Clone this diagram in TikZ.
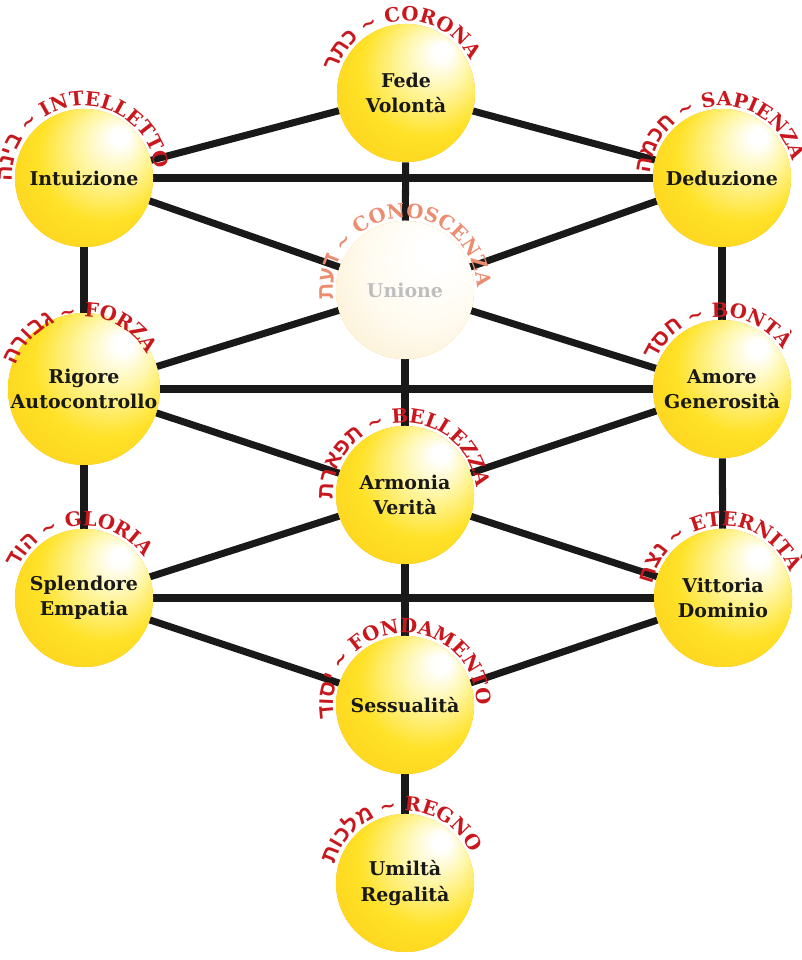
\documentclass[tikz,border=0pt]{standalone}
\usepackage{fontspec}
\setmainfont{DejaVu Serif}
\newfontfamily\hebfont{Liberation Sans}
\usetikzlibrary{decorations.text,backgrounds}

\definecolor{rosso}{RGB}{200,24,30}
\definecolor{salmone}{RGB}{236,140,112}
\definecolor{grigio}{RGB}{190,190,190}
\definecolor{giallo}{RGB}{255,226,40}
\definecolor{giallochiaro}{RGB}{255,246,165}
\definecolor{giallocarico}{RGB}{252,205,25}
\definecolor{arancio}{RGB}{242,172,16}
\definecolor{crema}{RGB}{250,236,200}
\definecolor{cremachiaro}{RGB}{255,251,240}

\pgfdeclareradialshading{sfera}{\pgfpoint{14bp}{16bp}}{color(0bp)=(white); color(3bp)=(white); color(12bp)=(giallochiaro); color(24bp)=(giallo); color(40bp)=(giallocarico); color(50bp)=(arancio)}
\pgfdeclareradialshading{sferapallida}{\pgfpoint{14bp}{16bp}}{color(0bp)=(white); color(6bp)=(white); color(22bp)=(cremachiaro); color(42bp)=(crema); color(50bp)=(crema!85!orange)}

\newcommand\ebr{\hebfont\bfseries\fontsize{16}{16}\selectfont\color{rosso}}
\newcommand\lat{\bfseries\fontsize{14}{14}\selectfont\color{rosso}}
\newcommand\ebrp{\hebfont\bfseries\fontsize{16}{16}\selectfont\color{salmone}}
\newcommand\latp{\bfseries\fontsize{14}{14}\selectfont\color{salmone}}

\tikzset{
  sefira/.style={circle, minimum size=3.45cm, inner sep=0pt, preaction={fill=arancio}, shading=sfera, align=center,
    font=\bfseries\fontsize{13.5}{18}\selectfont, text=black!90},
  unione/.style={sefira, preaction={fill=crema}, shading=sferapallida, text=grigio},
  sentiero/.style={line width=5pt, black!90},
  nome/.style={decorate, decoration={text along path, text align=center, text={#1}}},
}

\begin{document}
\begin{tikzpicture}[x=0.025cm, y=0.025cm]
    \useasboundingbox (0,0) rectangle (802,960);
    % Sefirot:
    \node[sefira] (keter) at (406,867) {Fede\\Volontà};
    \node[sefira] (binah) at (84,782) {Intuizione};
    \node[sefira] (chokhmah) at (722,782) {Deduzione};
    \node[unione] (daat) at (405,670) {Unione};
    \node[sefira] (gevurah) at (84,571) {Rigore\\Autocontrollo};
    \node[sefira] (chesed) at (722,571) {Amore\\Generosità};
    \node[sefira] (tiferet) at (405,465) {Armonia\\Verità};
    \node[sefira] (hod) at (84,362) {Splendore\\Empatia};
    \node[sefira] (netzach) at (723,362) {Vittoria\\Dominio};
    \node[sefira] (yesod) at (405,255) {Sessualità};
    \node[sefira] (malkuth) at (405,77) {Umiltà\\Regalità};
    % Names on arcs:
    \path[nome={|\ebr|רתכ |\lat|{\textasciitilde} CORONA}] (keter) ++(205:1.8cm) arc[start angle=205, end angle=-15, radius=1.8cm];
    \path[nome={|\ebr|הניב |\lat|{\textasciitilde} INTELLETTO}] (binah) ++(205:1.8cm) arc[start angle=205, end angle=-15, radius=1.8cm];
    \path[nome={|\ebr|המכח |\lat|{\textasciitilde} SAPIENZA}] (chokhmah) ++(205:1.8cm) arc[start angle=205, end angle=-15, radius=1.8cm];
    \path[nome={|\ebrp|תעד |\latp|{\textasciitilde} CONOSCENZA}] (daat) ++(205:1.8cm) arc[start angle=205, end angle=-15, radius=1.8cm];
    \path[nome={|\ebr|הרובג |\lat|{\textasciitilde} FORZA}] (gevurah) ++(205:1.8cm) arc[start angle=205, end angle=-15, radius=1.8cm];
    \path[nome={|\ebr|דסח |\lat|{\textasciitilde} BONTÀ}] (chesed) ++(205:1.8cm) arc[start angle=205, end angle=-15, radius=1.8cm];
    \path[nome={|\ebr|תראפת |\lat|{\textasciitilde} BELLEZZA}] (tiferet) ++(205:1.8cm) arc[start angle=205, end angle=-15, radius=1.8cm];
    \path[nome={|\ebr|דוה |\lat|{\textasciitilde} GLORIA}] (hod) ++(205:1.8cm) arc[start angle=205, end angle=-15, radius=1.8cm];
    \path[nome={|\ebr|חצנ |\lat|{\textasciitilde} ETERNITÀ}] (netzach) ++(205:1.8cm) arc[start angle=205, end angle=-15, radius=1.8cm];
    \path[nome={|\ebr|דוסי |\lat|{\textasciitilde} FONDAMENTO}] (yesod) ++(205:1.8cm) arc[start angle=205, end angle=-15, radius=1.8cm];
    \path[nome={|\ebr|תוכלמ |\lat|{\textasciitilde} REGNO}] (malkuth) ++(205:1.8cm) arc[start angle=205, end angle=-15, radius=1.8cm];
    % Paths:
    \begin{scope}[on background layer]
    \draw[sentiero] (keter) -- (binah);
    \draw[sentiero] (keter) -- (chokhmah);
    \draw[sentiero] (keter) -- (daat);
    \draw[sentiero] (binah) -- (chokhmah);
    \draw[sentiero] (binah) -- (daat);
    \draw[sentiero] (chokhmah) -- (daat);
    \draw[sentiero] (binah) -- (gevurah);
    \draw[sentiero] (chokhmah) -- (chesed);
    \draw[sentiero] (daat) -- (gevurah);
    \draw[sentiero] (daat) -- (chesed);
    \draw[sentiero] (daat) -- (tiferet);
    \draw[sentiero] (gevurah) -- (chesed);
    \draw[sentiero] (gevurah) -- (tiferet);
    \draw[sentiero] (chesed) -- (tiferet);
    \draw[sentiero] (gevurah) -- (hod);
    \draw[sentiero] (chesed) -- (netzach);
    \draw[sentiero] (tiferet) -- (hod);
    \draw[sentiero] (tiferet) -- (netzach);
    \draw[sentiero] (tiferet) -- (yesod);
    \draw[sentiero] (hod) -- (netzach);
    \draw[sentiero] (hod) -- (yesod);
    \draw[sentiero] (netzach) -- (yesod);
    \draw[sentiero] (yesod) -- (malkuth);
    \end{scope}
\end{tikzpicture}
\end{document}
